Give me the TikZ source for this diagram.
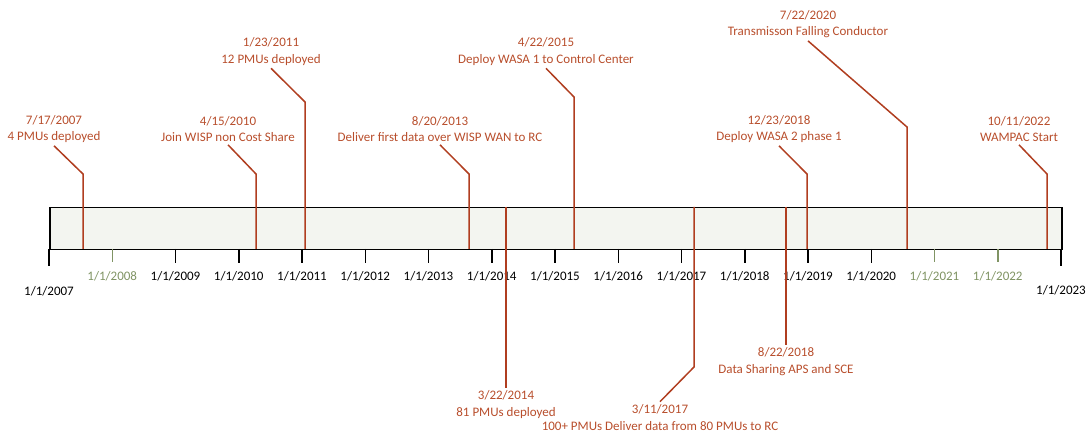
\documentclass[tikz,border=0pt]{standalone}
\usepackage{fontspec}
\setmainfont{Carlito}
\definecolor{evline}{RGB}{176,62,32}
\definecolor{evtext}{RGB}{184,78,44}
\definecolor{yrgreen}{RGB}{128,148,100}
\definecolor{barfill}{RGB}{243,245,240}
\begin{document}
\begin{tikzpicture}[x=1pt,y=-1pt,
  evl/.style={draw=evline,line width=1.5pt},
  evlab/.style={text=evtext,align=center,inner sep=0pt,outer sep=3pt,font=\fontsize{13}{16.5}\selectfont},
  yrlab/.style={text=black,inner sep=0pt,font=\fontsize{13}{15}\selectfont},
  yrlabg/.style={yrlab,text=yrgreen},
  tk/.style={draw=black,line width=1.5pt},
  tkg/.style={draw=yrgreen,line width=1.5pt}]
\useasboundingbox (0,0) rectangle (1092,435);
% bar
\node[draw=black,line width=1.5pt,fill=barfill,minimum width=1012pt,minimum height=42pt,inner sep=0pt,anchor=north west] (bar) at (49,207) {};
% ticks
\foreach \i/\yr in {0/2007,2/2009,3/2010,4/2011,5/2012,6/2013,7/2014,8/2015,9/2016,10/2017,11/2018,12/2019,13/2020}{
  \coordinate (t\yr) at ({49+63.25*\i},249);
}
\coordinate (t2008) at (112.25,249);
\coordinate (t2021) at (934.5,249);
\coordinate (t2022) at (997.75,249);
\coordinate (t2023) at (1061,249);
\foreach \yr in {2009,2010,2011,2012,2013,2014,2015,2016,2017,2018,2019,2020}{
  \draw[tk] (t\yr) -- ++(0,14);
  \node[yrlab] (y\yr) at ([yshift=-27pt]t\yr) {1/1/\yr};
}
\foreach \yr in {2008,2021,2022}{
  \draw[tkg] (t\yr) -- ++(0,13);
  \node[yrlabg] (y\yr) at ([yshift=-27pt]t\yr) {1/1/\yr};
}
\draw[tk] (t2007) -- ++(0,17);
\draw[tk] (t2023) -- ++(0,17);
\node[yrlab] (y2007) at ([yshift=-42pt]t2007) {1/1/2007};
\node[yrlab] (y2023) at ([yshift=-41pt]t2023) {1/1/2023};
% event labels
\node[evlab] (l1) at (54,129) {7/17/2007\\4 PMUs deployed};
\node[evlab] (l2) at (228,129) {4/15/2010\\Join WISP non Cost Share};
\node[evlab] (l3) at (271,51.5) {1/23/2011\\12 PMUs deployed};
\node[evlab] (l4) at (440,129) {8/20/2013\\Deliver first data over WISP WAN to RC};
\node[evlab] (l5) at (506,404.5) {3/22/2014\\81 PMUs deployed};
\node[evlab] (l6) at (546,51.5) {4/22/2015\\Deploy WASA 1 to Control Center};
\node[evlab] (l7) at (660,417.5) {3/11/2017\\100+ PMUs Deliver data from 80 PMUs to RC};
\node[evlab] (l8) at (786,361.5) {8/22/2018\\Data Sharing APS and SCE};
\node[evlab] (l9) at (779,129) {12/23/2018\\Deploy WASA 2 phase 1};
\node[evlab] (l10) at (808,24) {7/22/2020\\Transmisson Falling Conductor};
\node[evlab] (l11) at (1019,129) {10/11/2022\\WAMPAC Start};
% event points and knees
\coordinate (e1) at (83,249);   \coordinate (k1) at (83,174);
\coordinate (e2) at (256,249);  \coordinate (k2) at (256,174);
\coordinate (e3) at (305,249);  \coordinate (k3) at (305,102);
\coordinate (e4) at (469,249);  \coordinate (k4) at (469,174);
\coordinate (e5) at (506,207);
\coordinate (e6) at (574,249);  \coordinate (k6) at (574,97);
\coordinate (e7) at (694,207);  \coordinate (k7) at (694,367);
\coordinate (e8) at (786,207);
\coordinate (e9) at (807,249);  \coordinate (k9) at (807,174);
\coordinate (e10) at (907,249); \coordinate (k10) at (907,127);
\coordinate (e11) at (1047,249); \coordinate (k11) at (1047,174);
% connectors
\draw[evl] (l1.south) -- (k1) -- (e1);
\draw[evl] (l2.south) -- (k2) -- (e2);
\draw[evl] (l3.south) -- (k3) -- (e3);
\draw[evl] (l4.south) -- (k4) -- (e4);
\draw[evl] (e5) -- (l5.north);
\draw[evl] (l6.south) -- (k6) -- (e6);
\draw[evl] (e7) -- (k7) -- (l7.north);
\draw[evl] (e8) -- (l8.north);
\draw[evl] (l9.south) -- (k9) -- (e9);
\draw[evl] (l10.south) -- (k10) -- (e10);
\draw[evl] (l11.south) -- (k11) -- (e11);
\end{tikzpicture}
\end{document}
